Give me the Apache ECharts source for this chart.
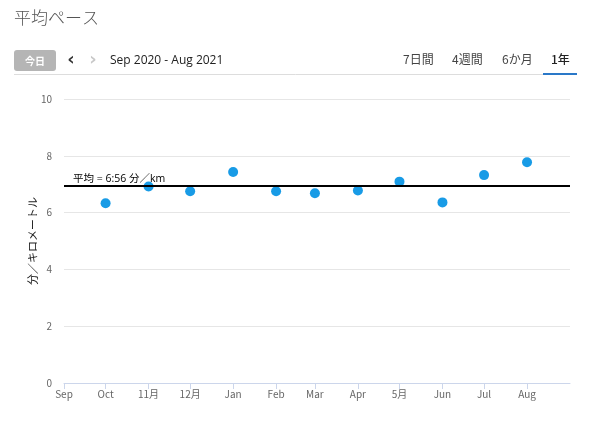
<!DOCTYPE html>
<html>
<head>
<meta charset="utf-8">
<script src="https://cdn.jsdelivr.net/npm/echarts@6/dist/echarts.min.js"></script>
<style>
html,body{margin:0;padding:0;background:#fff;}
#chart{width:600px;height:429px;}
</style>
</head>
<body>
<div id="chart"></div>
<script>
// Data
var monthStarts = [[2020,8],[2020,9],[2020,10],[2020,11],[2021,0],[2021,1],[2021,2],[2021,3],[2021,4],[2021,5],[2021,6],[2021,7]];
var monthLabels = ['Sep','Oct','11月','12月','Jan','Feb','Mar','Apr','5月','Jun','Jul','Aug'];
var pointMonths = [[2020,9],[2020,10],[2020,11],[2021,0],[2021,1],[2021,2],[2021,3],[2021,4],[2021,5],[2021,6],[2021,7]];
var paceValues = [6.33, 6.92, 6.75, 7.43, 6.75, 6.68, 6.78, 7.09, 6.36, 7.32, 7.77];
var averagePace = 6.933;
var averageLabel = '平均 = 6:56 分／km';
var yTicks = [0, 2, 4, 6, 8, 10];
var tabs = ['7日間', '4週間', '6か月', '1年'];

var ts = function (ym) { return Date.UTC(ym[0], ym[1], 1); };
var tickValues = monthStarts.map(ts);
var labelMap = {};
tickValues.forEach(function (t, i) { labelMap[t] = monthLabels[i]; });
var seriesData = pointMonths.map(function (m, i) { return [ts(m), paceValues[i]]; });

var chart = echarts.init(document.getElementById('chart'), null, {renderer: 'canvas'});
var FONT = '"Noto Sans CJK JP", "Open Sans", sans-serif';
var LFONT = '"Open Sans", "Noto Sans CJK JP", sans-serif';
var tabX = [403, 452, 502, 551];

var graphics = [
  {type: 'text', left: 14, top: 9, style: {text: '平均ペース', font: '300 17px ' + FONT, fill: '#555'}},
  {type: 'rect', shape: {x: 14, y: 50, width: 42, height: 21, r: 3}, style: {fill: '#b5b5b5'}},
  {type: 'text', x: 35, y: 61, style: {text: '今日', font: 'bold 10px ' + FONT, fill: '#fff', align: 'center', verticalAlign: 'middle'}},
  {type: 'text', x: 71, y: 60, style: {text: '‹', font: 'bold 18px "DejaVu Sans", sans-serif', fill: '#333', align: 'center', verticalAlign: 'middle'}},
  {type: 'text', x: 93, y: 60, style: {text: '›', font: 'bold 18px "DejaVu Sans", sans-serif', fill: '#c8c8c8', align: 'center', verticalAlign: 'middle'}},
  {type: 'text', x: 110, y: 61, style: {text: 'Sep 2020 - Aug 2021', font: '12px "Open Sans", sans-serif', fill: '#222', verticalAlign: 'middle'}},
  {type: 'line', shape: {x1: 14, y1: 74.5, x2: 577, y2: 74.5}, style: {stroke: '#dddddd', lineWidth: 1}},
  {type: 'rect', shape: {x: 543, y: 73, width: 34, height: 2}, style: {fill: '#2a78c8'}}
];
tabs.forEach(function (t, i) {
  graphics.push({type: 'text', x: tabX[i], y: 59, style: {text: t, font: (i === 3 ? '500 ' : '') + '12px ' + FONT, fill: i === 3 ? '#222' : '#444', verticalAlign: 'middle'}});
});

chart.setOption({
  animation: false,
  backgroundColor: '#fff',
  grid: {left: 64, right: 30, top: 99, bottom: 46, containLabel: false},
  graphic: graphics,
  xAxis: {
    type: 'value',
    min: tickValues[0],
    max: Date.UTC(2021, 8, 1),
    axisLine: {show: true, lineStyle: {color: '#ccd6eb', width: 1}},
    axisTick: {show: true, length: 6, lineStyle: {color: '#ccd6eb'}, customValues: tickValues},
    axisLabel: {
      customValues: tickValues,
      color: '#666', fontSize: 10, fontFamily: FONT, margin: 6,
      formatter: function (v) { return labelMap[v] || ''; }
    },
    splitLine: {show: false}
  },
  yAxis: {
    type: 'value',
    min: 0, max: 10, interval: 2,
    name: '分／キロメートル',
    nameLocation: 'middle',
    nameRotate: 90,
    nameGap: 31,
    nameMoveOverlap: false,
    nameTextStyle: {color: '#222', fontSize: 11, fontFamily: FONT, verticalAlign: 'middle'},
    axisLine: {show: false},
    axisTick: {show: false},
    axisLabel: {color: '#666', fontSize: 10, fontFamily: FONT, margin: 12,
      formatter: function (v) { return yTicks.indexOf(v) >= 0 ? String(v) : ''; }},
    splitLine: {lineStyle: {color: '#e6e6e6', width: 1}}
  },
  series: [{
    type: 'scatter',
    data: seriesData,
    symbolSize: 10,
    itemStyle: {color: '#189be6', opacity: 1},
    markLine: {
      silent: true,
      symbol: ['none', 'none'],
      lineStyle: {color: '#000', width: 2, type: 'solid'},
      label: {show: true, position: 'insideStartTop', formatter: averageLabel, color: '#000', fontSize: 10.5, fontFamily: LFONT, distance: [9, 2]},
      data: [{yAxis: averagePace}]
    }
  }]
});
</script>
</body>
</html>
